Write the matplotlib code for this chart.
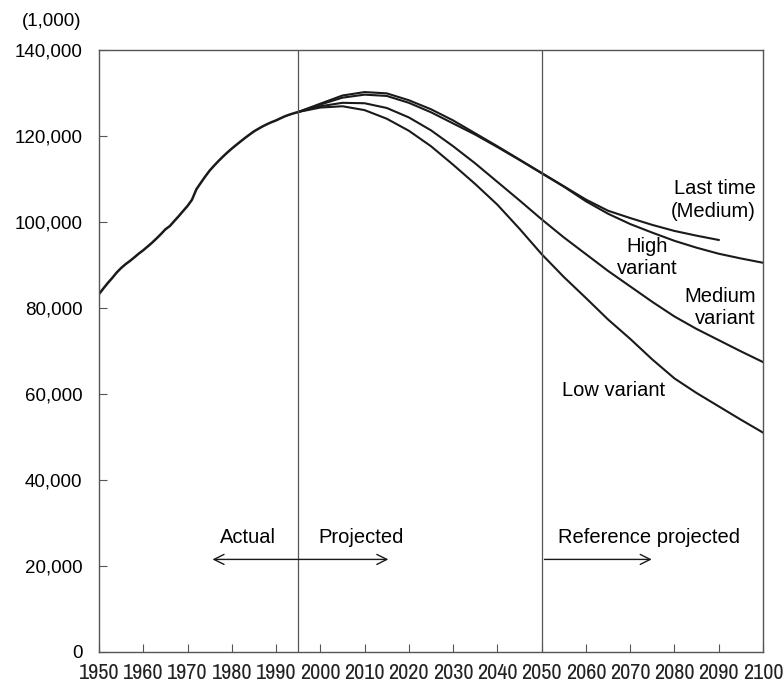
import matplotlib
matplotlib.use('agg')
import matplotlib.pyplot as plt

# actual population (thousands)
actual_years = [1950, 1951, 1952, 1953, 1954, 1955, 1956, 1957, 1958, 1959,
                1960, 1961, 1962, 1963, 1964, 1965, 1966, 1967, 1968, 1969,
                1970, 1971, 1972, 1973, 1974, 1975, 1976, 1977, 1978, 1979,
                1980, 1981, 1982, 1983, 1984, 1985, 1986, 1987, 1988, 1989,
                1990, 1991, 1992, 1993, 1994, 1995]
actual = [83200, 84540, 85810, 86980, 88240, 89280, 90170, 90930, 91770, 92640,
          93420, 94290, 95180, 96160, 97180, 98280, 99040, 100200, 101330, 102540,
          103720, 105150, 107600, 109100, 110570, 111940, 113090, 114170, 115190, 116160,
          117060, 117900, 118730, 119540, 120310, 121050, 121660, 122240, 122750, 123210,
          123610, 124100, 124570, 124940, 125270, 125570]

proj_years = [1995, 2000, 2005, 2010, 2015, 2020, 2025, 2030, 2035, 2040, 2045,
              2050, 2055, 2060, 2065, 2070, 2075, 2080, 2085, 2090, 2095, 2100]
high = [125570, 127300, 128900, 129600, 129300, 127700, 125500, 122900, 120300, 117400, 114400,
        111300, 108200, 104800, 101900, 99500, 97500, 95600, 94000, 92600, 91500, 90500]
medium = [125570, 126900, 127700, 127600, 126500, 124300, 121300, 117600, 113600, 109300, 105000,
          100600, 96400, 92500, 88600, 85000, 81400, 78000, 75100, 72500, 69900, 67400]
low = [125570, 126600, 126900, 126000, 124000, 121200, 117600, 113300, 108800, 104000, 98400,
       92500, 87200, 82300, 77300, 72800, 68000, 63600, 60200, 57100, 54000, 51000]

last_years = proj_years[:20]
last_medium = [125570, 127500, 129400, 130200, 129900, 128300, 126200, 123600, 120600, 117600, 114500,
               111400, 108300, 105200, 102600, 100900, 99300, 97900, 96800, 95800]

xticks = list(range(1950, 2101, 10))
yticks = list(range(0, 140001, 20000))

plt.rcParams['font.family'] = ['Liberation Sans', 'DejaVu Sans']
fig = plt.figure(figsize=(7.84, 6.84), dpi=100)
ax = fig.add_axes([0.1263, 0.047, 0.8469, 0.880])

lc = '#1a1a1a'
ax.plot(actual_years, actual, color=lc, lw=1.8)
ax.plot(proj_years, high, color=lc, lw=1.5)
ax.plot(proj_years, medium, color=lc, lw=1.5)
ax.plot(proj_years, low, color=lc, lw=1.5)
ax.plot(last_years, last_medium, color=lc, lw=1.5)

ax.axvline(1995, color='#555555', lw=0.9)
ax.axvline(2050, color='#555555', lw=0.9)

ax.set_xlim(1950, 2100)
ax.set_ylim(0, 140000)
ax.set_xticks(xticks)
ax.set_yticks(yticks)
ax.set_yticklabels(['{:,}'.format(v) for v in yticks], fontsize=13.5)
# narrow face for the year labels (condensed DejaVu if it is missing)
ax.set_xticklabels([str(v) for v in xticks], fontsize=16, color='#222222',
                   family=['Archivo Narrow', 'DejaVu Sans'], stretch='condensed',
                   weight='light')
ax.tick_params(direction='in', length=6, width=0.8, color='#555555')
ax.tick_params(axis='y', pad=12)
ax.tick_params(axis='x', pad=8)
for s in ax.spines.values():
    s.set_color('#555555')
    s.set_linewidth(1.0)

ax.text(-0.026, 1.047, '(1,000)', transform=ax.transAxes, ha='right', va='center',
        fontsize=13.5)

fs = 14.5
ax.annotate('', xy=(1975, 21500), xytext=(2016, 21500),
            arrowprops=dict(arrowstyle='<->', color=lc, lw=1.0, mutation_scale=18))
ax.annotate('', xy=(2075.5, 21500), xytext=(2050, 21500),
            arrowprops=dict(arrowstyle='->', color=lc, lw=1.0, mutation_scale=18))
ax.text(1983.7, 26600, 'Actual', ha='center', va='center', fontsize=fs)
ax.text(2009.2, 26600, 'Projected', ha='center', va='center', fontsize=fs)
ax.text(2074.2, 26600, 'Reference projected', ha='center', va='center', fontsize=fs)

ax.text(2098.4, 105100, 'Last time\n(Medium)', ha='right', va='center',
        fontsize=fs, linespacing=1.25, multialignment='right')
ax.text(2073.8, 91700, 'High\nvariant', ha='center', va='center',
        fontsize=fs, linespacing=1.25)
ax.text(2098.4, 80100, 'Medium\nvariant', ha='right', va='center',
        fontsize=fs, linespacing=1.25, multialignment='right')
ax.text(2066.3, 60900, 'Low variant', ha='center', va='center', fontsize=fs)

fig.savefig('out.png', dpi=100)
